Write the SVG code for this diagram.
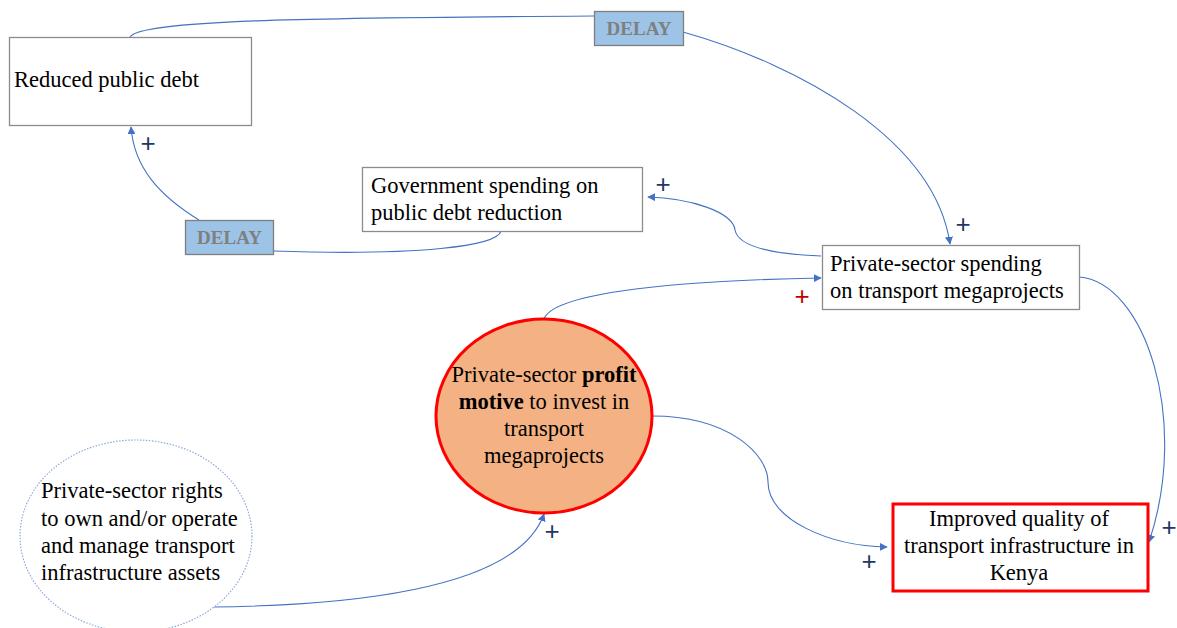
<svg xmlns="http://www.w3.org/2000/svg" width="1177" height="628" viewBox="0 0 1177 628">
  <style>
    .box { fill: #ffffff; stroke: #8c8c8c; stroke-width: 1.3; }
    .key { fill: #ffffff; stroke: #ff0000; stroke-width: 3; }
    .delay { fill: #9dc3e6; stroke: #7f7f7f; stroke-width: 1.3; }
    .delay-text { font-family: "Liberation Serif", "Times New Roman", serif; font-weight: bold; font-size: 19px; fill: #7f7f7f; text-anchor: middle; }
    .lbl { font-family: "Liberation Serif", "Times New Roman", serif; font-size: 22.5px; fill: #000000; }
    .mid { text-anchor: middle; }
    .link { fill: none; stroke: #4472c4; stroke-width: 1.1; }
    .arr { fill: none; stroke: #4472c4; stroke-width: 1.1; marker-end: url(#tip); }
    .pol { font-family: "Liberation Sans", sans-serif; font-size: 26px; fill: #1f3864; text-anchor: middle; }
    .pol-red { fill: #c00000; }
  </style>
  <defs>
    <marker id="tip" viewBox="0 0 10 10" refX="9" refY="5" markerWidth="8" markerHeight="8" markerUnits="userSpaceOnUse" orient="auto">
      <path d="M0,0 L10,5 L0,10 z" fill="#4472c4"/>
    </marker>
  </defs>

  <rect width="1177" height="628" fill="#ffffff"/>

  <!-- causal links -->
  <g id="connectors">
    <path class="link" d="M130,37 C140,20 300,18 594,16"/>
    <path class="arr" d="M683,32 C800,65 935,140 950,244"/>
    <path class="arr" d="M821,256 C770,254 738,246 735,230 C733,212 690,198 648,197"/>
    <path class="link" d="M501,231 C497,246 420,256 273,251"/>
    <path class="arr" d="M199,220 C160,196 134,168 131,127"/>
    <path class="arr" d="M544,319 C552,296 650,281 821,278"/>
    <path class="arr" d="M1079,277 C1145,282 1190,420 1149,542"/>
    <path class="arr" d="M652,416 C730,416 768,455 768,482 C768,520 830,546 887,547"/>
    <path class="arr" d="M212,607 C380,605 520,582 544,514"/>
  </g>

  <!-- link polarities -->
  <g id="polarities">
    <text class="pol" x="148" y="152">+</text>
    <text class="pol" x="663" y="193">+</text>
    <text class="pol" x="963" y="233">+</text>
    <text class="pol pol-red" x="802" y="305">+</text>
    <text class="pol" x="1169" y="536">+</text>
    <text class="pol" x="869" y="570">+</text>
    <text class="pol" x="552" y="540">+</text>
  </g>

  <g id="reduced-debt">
    <rect class="box" x="9.5" y="37.5" width="242" height="88"/>
    <text class="lbl" x="14" y="87">Reduced public debt</text>
  </g>

  <g id="delay-top">
    <rect class="delay" x="594.5" y="11.5" width="89" height="34"/>
    <text class="delay-text" x="639" y="35">DELAY</text>
  </g>

  <g id="delay-left">
    <rect class="delay" x="185.5" y="220.5" width="88" height="34"/>
    <text class="delay-text" x="229.5" y="244">DELAY</text>
  </g>

  <g id="gov-spending">
    <rect class="box" x="362.5" y="167.5" width="280" height="64"/>
    <text class="lbl" x="371" y="193">Government spending on</text>
    <text class="lbl" x="371" y="220">public debt reduction</text>
  </g>

  <g id="private-spending">
    <rect class="box" x="822.5" y="245.5" width="257" height="64"/>
    <text class="lbl" x="830" y="271">Private-sector spending</text>
    <text class="lbl" x="830" y="298">on transport megaprojects</text>
  </g>

  <g id="profit-motive">
    <ellipse cx="544" cy="416" rx="108" ry="97" fill="#f4b183" stroke="#ff0000" stroke-width="3"/>
    <text class="lbl mid" x="544" y="382">Private-sector <tspan font-weight="bold">profit</tspan></text>
    <text class="lbl mid" x="544" y="409"><tspan font-weight="bold">motive</tspan> to invest in</text>
    <text class="lbl mid" x="544" y="436">transport</text>
    <text class="lbl mid" x="544" y="463">megaprojects</text>
  </g>

  <g id="private-rights">
    <ellipse cx="136" cy="536" rx="116" ry="96" fill="#ffffff" stroke="#8ea9db" stroke-width="1.2" stroke-dasharray="1.5 1.5"/>
    <text class="lbl" x="41" y="498">Private-sector rights</text>
    <text class="lbl" x="41" y="525.5">to own and/or operate</text>
    <text class="lbl" x="41" y="553">and manage transport</text>
    <text class="lbl" x="41" y="580">infrastructure assets</text>
  </g>

  <g id="infrastructure-quality">
    <rect class="key" x="893" y="504" width="255" height="87"/>
    <text class="lbl mid" x="1019" y="526">Improved quality of</text>
    <text class="lbl mid" x="1019" y="553">transport infrastructure in</text>
    <text class="lbl mid" x="1019" y="580">Kenya</text>
  </g>
</svg>
